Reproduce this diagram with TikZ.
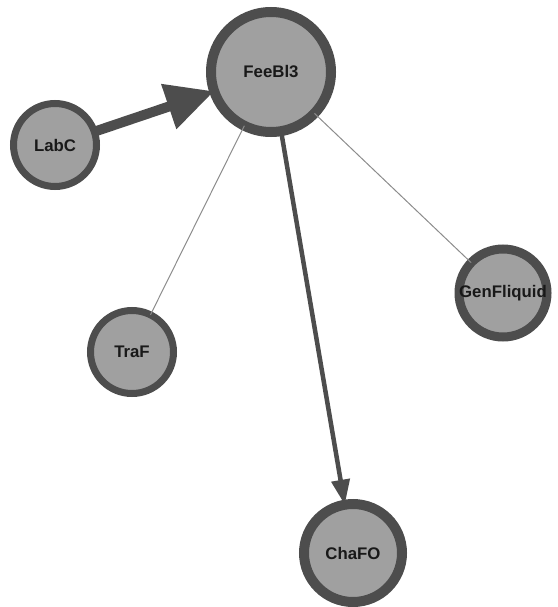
\documentclass[tikz,border=0pt]{standalone}
\usepackage{fontspec}
\setmainfont{Liberation Sans}
\usepackage{tikz}
\usetikzlibrary{arrows.meta}
\definecolor{nodefill}{RGB}{160,160,160}
\definecolor{nodeline}{RGB}{77,77,77}
\definecolor{faintline}{RGB}{140,140,140}
\tikzset{
    netnode/.style = {
        circle,
        draw=nodeline,
        fill=nodefill,
        line width=7pt,
        minimum size=83pt,
        inner sep=0pt,
        outer sep=0pt,
        text=black!90,
        font=\bfseries\fontsize{16.8}{20}\selectfont
    },
    midnode/.style = {
        netnode,
        line width=9pt,
        minimum size=88pt,
        inner sep=-5pt
    },
    widenode/.style = {
        netnode,
        line width=10pt,
        minimum size=98pt
    },
    hubnode/.style = {
        netnode,
        line width=10pt,
        minimum size=120pt
    },
    heavyedge/.style = {
        draw=nodeline,
        line width=10pt,
        -{Triangle[length=48pt,width=45pt]}
    },
    arrowedge/.style = {
        draw=nodeline,
        line width=4.5pt,
        -{Triangle[length=25pt,width=18pt]}
    },
    thinedge/.style = {
        draw=faintline,
        line width=1pt
    }
}
\begin{document}
\begin{tikzpicture}[x=1pt,y=-1pt]
    \useasboundingbox (0,0) rectangle (557,607);
    % nodes
    \node [hubnode]  (feebl3) at (271,72)  {FeeBl3};
    \node [netnode]  (labc)   at (55,145)  {LabC};
    \node [netnode]  (traf)   at (132,352) {TraF};
    \node [midnode]  (genf)   at (503,293) {GenFliquid};
    \node [widenode] (chafo)  at (353,553) {ChaFO};
    % edges
    \path [thinedge]  (feebl3) -- (traf);
    \path [thinedge]  (feebl3) -- (genf);
    \path [heavyedge] (labc) -- (feebl3);
    \path [arrowedge] (feebl3) -- (chafo);
\end{tikzpicture}
\end{document}
